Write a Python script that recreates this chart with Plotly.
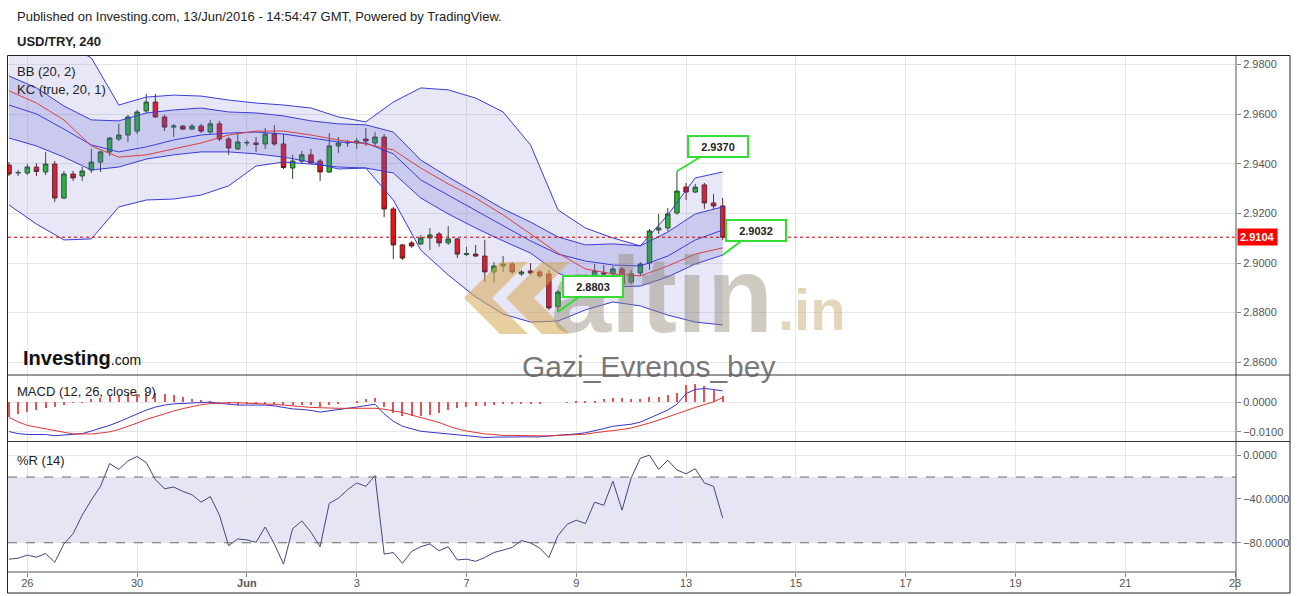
import plotly.graph_objects as go
from plotly.subplots import make_subplots

# ---------------- data (USD/TRY, 240-minute bars) ----------------
opens = [2.9395, 2.9363, 2.9363, 2.9387, 2.9367, 2.9399, 2.9262, 2.9359, 2.9351, 2.9375,
         2.9407, 2.9448, 2.9500, 2.9516, 2.9532, 2.9613, 2.9649, 2.9589, 2.9548, 2.9552,
         2.9540, 2.9552, 2.9528, 2.9561, 2.9500, 2.9460, 2.9484, 2.9484, 2.9480, 2.9520,
         2.9480, 2.9383, 2.9411, 2.9436, 2.9411, 2.9367, 2.9472, 2.9484, 2.9484, 2.9500,
         2.9484, 2.9508, 2.9218, 2.9073, 2.9081, 2.9077, 2.9101, 2.9117, 2.9081, 2.9097,
         2.9034, 2.9036, 2.9028, 2.8964, 2.8988, 2.8996, 2.8956, 2.8968, 2.8964, 2.8956,
         2.8823, 2.8887, 2.8919, 2.8915, 2.8907, 2.8960, 2.8956, 2.8976, 2.8923, 2.8960,
         2.9000, 2.9133, 2.9141, 2.9202, 2.9306, 2.9286, 2.9315, 2.9242, 2.9230]
highs = [2.9407, 2.9375, 2.9399, 2.9403, 2.9448, 2.9411, 2.9371, 2.9371, 2.9387, 2.9460,
         2.9452, 2.9508, 2.9561, 2.9597, 2.9617, 2.9682, 2.9682, 2.9597, 2.9561, 2.9556,
         2.9561, 2.9561, 2.9577, 2.9573, 2.9508, 2.9524, 2.9496, 2.9508, 2.9544, 2.9556,
         2.9520, 2.9436, 2.9452, 2.9460, 2.9419, 2.9524, 2.9508, 2.9496, 2.9504, 2.9544,
         2.9528, 2.9520, 2.9226, 2.9077, 2.9089, 2.9113, 2.9141, 2.9125, 2.9149, 2.9101,
         2.9065, 2.9073, 2.9093, 2.9004, 2.9028, 2.9004, 2.8972, 2.9000, 2.8972, 2.8972,
         2.8891, 2.8927, 2.8927, 2.8923, 2.8996, 2.8992, 2.8988, 2.8984, 2.8972, 2.9004,
         2.9137, 2.9198, 2.9222, 2.9370, 2.9323, 2.9319, 2.9323, 2.9278, 2.9262]
lows = [2.9351, 2.9350, 2.9355, 2.9351, 2.9355, 2.9246, 2.9258, 2.9331, 2.9331, 2.9363,
        2.9367, 2.9432, 2.9492, 2.9488, 2.9520, 2.9605, 2.9585, 2.9532, 2.9508, 2.9536,
        2.9536, 2.9524, 2.9520, 2.9492, 2.9436, 2.9456, 2.9472, 2.9448, 2.9460, 2.9472,
        2.9379, 2.9339, 2.9399, 2.9399, 2.9331, 2.9363, 2.9444, 2.9468, 2.9460, 2.9472,
        2.9468, 2.9185, 2.9016, 2.9012, 2.9061, 2.9073, 2.9052, 2.9065, 2.9073, 2.9020,
        2.9028, 2.9024, 2.8923, 2.8919, 2.8964, 2.8956, 2.8948, 2.8952, 2.8940, 2.8810,
        2.8803, 2.8867, 2.8907, 2.8895, 2.8871, 2.8944, 2.8940, 2.8899, 2.8915, 2.8948,
        2.8972, 2.9117, 2.9129, 2.9194, 2.9254, 2.9282, 2.9218, 2.9218, 2.9093]
closes = [2.9359, 2.9365, 2.9387, 2.9369, 2.9399, 2.9262, 2.9359, 2.9343, 2.9371, 2.9407,
          2.9448, 2.9504, 2.9516, 2.9589, 2.9609, 2.9649, 2.9589, 2.9548, 2.9552, 2.9540,
          2.9552, 2.9532, 2.9561, 2.9500, 2.9464, 2.9488, 2.9486, 2.9478, 2.9520, 2.9480,
          2.9385, 2.9411, 2.9436, 2.9403, 2.9367, 2.9472, 2.9484, 2.9486, 2.9492, 2.9492,
          2.9508, 2.9218, 2.9073, 2.9020, 2.9069, 2.9101, 2.9113, 2.9081, 2.9097, 2.9036,
          2.9038, 2.9028, 2.8964, 2.8988, 2.8996, 2.8964, 2.8964, 2.8960, 2.8948, 2.8819,
          2.8883, 2.8919, 2.8915, 2.8907, 2.8968, 2.8956, 2.8976, 2.8915, 2.8956, 2.8996,
          2.9129, 2.9141, 2.9198, 2.9290, 2.9286, 2.9306, 2.9242, 2.9230, 2.9104]

# band lines read every third bar
band_bars = [0, 3, 6, 9, 12, 15, 18, 21, 24, 27, 30, 33, 36, 39, 42, 45, 48, 51, 54, 57,
             60, 63, 66, 69, 72, 75, 78]
bb_upper = [2.9940, 2.9919, 2.9887, 2.9827, 2.9637, 2.9669, 2.9677, 2.9673, 2.9657, 2.9645,
            2.9637, 2.9625, 2.9589, 2.9569, 2.9649, 2.9706, 2.9698, 2.9665, 2.9609, 2.9476,
            2.9214, 2.9141, 2.9101, 2.9069, 2.9194, 2.9343, 2.9367]
bb_lower = [2.9234, 2.9157, 2.9093, 2.9097, 2.9226, 2.9254, 2.9258, 2.9274, 2.9311, 2.9391,
            2.9407, 2.9399, 2.9387, 2.9383, 2.9254, 2.9052, 2.8952, 2.8863, 2.8794, 2.8762,
            2.8766, 2.8811, 2.8843, 2.8827, 2.8790, 2.8762, 2.8750]
kc_upper = [2.9754, 2.9706, 2.9633, 2.9577, 2.9573, 2.9605, 2.9617, 2.9625, 2.9609, 2.9605,
            2.9593, 2.9573, 2.9561, 2.9557, 2.9528, 2.9415, 2.9347, 2.9282, 2.9218, 2.9165,
            2.9105, 2.9073, 2.9077, 2.9069, 2.9125, 2.9198, 2.9226]
kc_middle = [2.9637, 2.9601, 2.9540, 2.9476, 2.9448, 2.9468, 2.9496, 2.9516, 2.9524, 2.9528,
             2.9520, 2.9504, 2.9488, 2.9484, 2.9440, 2.9335, 2.9274, 2.9210, 2.9149, 2.9089,
             2.9036, 2.9008, 2.8992, 2.8988, 2.9028, 2.9093, 2.9133]
kc_lower = [2.9504, 2.9472, 2.9427, 2.9375, 2.9387, 2.9419, 2.9436, 2.9448, 2.9448, 2.9440,
            2.9427, 2.9407, 2.9379, 2.9383, 2.9363, 2.9262, 2.9198, 2.9141, 2.9089, 2.9040,
            2.8960, 2.8915, 2.8903, 2.8907, 2.8944, 2.8996, 2.9032]
bb_basis = [2.9694, 2.9645, 2.9577, 2.9472, 2.9427, 2.9436, 2.9460, 2.9484, 2.9516, 2.9532,
            2.9532, 2.9516, 2.9496, 2.9480, 2.9456, 2.9383, 2.9319, 2.9262, 2.9194, 2.9117,
            2.9040, 2.8976, 2.8956, 2.8948, 2.8988, 2.9036, 2.9061]

macd_line = [-0.0099, -0.0106, -0.0109, -0.0109, -0.0109, -0.0113, -0.0110, -0.0108, -0.0106, -0.0097,
             -0.0088, -0.0078, -0.0066, -0.0052, -0.0040, -0.0026, -0.0016, -0.0009, -0.0005, -0.0003,
             -0.0001, 0.0001, 0.0001, -0.0003, -0.0007, -0.0009, -0.0009, -0.0009, -0.0009, -0.0012,
             -0.0018, -0.0022, -0.0024, -0.0027, -0.0033, -0.0028, -0.0023, -0.0020, -0.0016, -0.0010,
             -0.0006, -0.0039, -0.0064, -0.0081, -0.0090, -0.0098, -0.0101, -0.0104, -0.0107, -0.0109,
             -0.0111, -0.0114, -0.0119, -0.0118, -0.0117, -0.0117, -0.0117, -0.0117, -0.0117, -0.0114,
             -0.0112, -0.0110, -0.0107, -0.0103, -0.0097, -0.0089, -0.0081, -0.0078, -0.0074, -0.0067,
             -0.0053, -0.0040, -0.0026, -0.0006, 0.0030, 0.0044, 0.0047, 0.0044, 0.0039]
signal_line = [-0.0051, -0.0066, -0.0078, -0.0084, -0.0090, -0.0096, -0.0101, -0.0107, -0.0107, -0.0107,
               -0.0104, -0.0100, -0.0092, -0.0082, -0.0070, -0.0058, -0.0048, -0.0038, -0.0029, -0.0021,
               -0.0014, -0.0008, -0.0004, -0.0002, -0.0001, -0.0001, -0.0002, -0.0003, -0.0004, -0.0007,
               -0.0009, -0.0012, -0.0014, -0.0017, -0.0018, -0.0020, -0.0020, -0.0020, -0.0020, -0.0020,
               -0.0020, -0.0023, -0.0029, -0.0034, -0.0043, -0.0051, -0.0059, -0.0068, -0.0080, -0.0090,
               -0.0097, -0.0103, -0.0107, -0.0109, -0.0112, -0.0112, -0.0113, -0.0114, -0.0114, -0.0114,
               -0.0112, -0.0111, -0.0110, -0.0108, -0.0103, -0.0100, -0.0096, -0.0092, -0.0087, -0.0079,
               -0.0070, -0.0060, -0.0050, -0.0039, -0.0028, -0.0017, -0.0007, 0.0002, 0.0016]

williams_r = [-95.0, -94.1, -91.3, -93.2, -89.8, -97.8, -81.1, -71.8, -54.8, -40.9,
              -28.5, -7.7, -13.0, -5.3, -1.2, -6.8, -22.3, -30.7, -29.1, -33.1,
              -36.2, -43.0, -37.8, -54.8, -82.7, -76.5, -77.4, -79.6, -65.6, -81.1,
              -99.5, -67.2, -60.1, -70.3, -83.6, -44.0, -39.3, -31.6, -25.4, -28.5,
              -18.6, -90.4, -88.9, -98.8, -87.9, -83.6, -81.1, -87.3, -83.6, -95.7,
              -95.0, -96.9, -93.5, -88.9, -86.7, -84.2, -78.0, -80.2, -84.8, -93.5,
              -73.4, -63.2, -59.4, -62.5, -43.0, -45.8, -23.8, -50.2, -20.7, -2.8,
              0.0, -13.0, -4.6, -13.6, -17.0, -12.4, -25.4, -28.5, -57.3]

day_labels = ['26', '30', '<b>Jun</b>', '3', '7', '9', '13', '15', '17', '19', '21', '23']
day_tick_bars = [2, 14, 26, 38, 50, 62, 74, 86, 98, 110, 122, 134]
price_ticks = [2.86, 2.88, 2.90, 2.92, 2.94, 2.96, 2.98]
macd_ticks = [0.0, -0.01]
wr_ticks = [0, -40, -80]
last_price = 2.9104
callouts = [(73, 2.9370), (78, 2.9032), (60, 2.8803)]

# ---------------- figure ----------------
FONT = "Arial, Liberation Sans, sans-serif"
BLUE = "#3c3cd8"
REDL = "#d94040"

bars = list(range(len(closes)))
hist = [m - s for m, s in zip(macd_line, signal_line)]

fig = make_subplots(rows=3, cols=1, shared_xaxes=True, vertical_spacing=0,
                    row_heights=[320, 66, 131])

fig.add_trace(go.Scatter(x=band_bars, y=bb_upper, mode='lines',
                         line=dict(color=BLUE, width=1)), row=1, col=1)
fig.add_trace(go.Scatter(x=band_bars, y=bb_lower, mode='lines', fill='tonexty',
                         fillcolor='rgba(110,110,205,0.17)',
                         line=dict(color=BLUE, width=1)), row=1, col=1)
fig.add_trace(go.Scatter(x=band_bars, y=kc_upper, mode='lines',
                         line=dict(color=BLUE, width=1)), row=1, col=1)
fig.add_trace(go.Scatter(x=band_bars, y=kc_lower, mode='lines', fill='tonexty',
                         fillcolor='rgba(90,90,210,0.20)',
                         line=dict(color=BLUE, width=1)), row=1, col=1)
fig.add_trace(go.Scatter(x=band_bars, y=kc_middle, mode='lines',
                         line=dict(color=BLUE, width=1)), row=1, col=1)
fig.add_trace(go.Scatter(x=band_bars, y=bb_basis, mode='lines',
                         line=dict(color=REDL, width=1)), row=1, col=1)
fig.add_trace(go.Candlestick(x=bars, open=opens, high=highs, low=lows, close=closes,
                             increasing=dict(fillcolor='#20c020', line=dict(color='#2a4a2a', width=1)),
                             decreasing=dict(fillcolor='#ee1111', line=dict(color='#5a2020', width=1)),
                             whiskerwidth=0), row=1, col=1)

fig.add_trace(go.Bar(x=bars, y=hist, width=0.12, marker=dict(color='#e05555', line=dict(width=0))),
              row=2, col=1)
fig.add_trace(go.Scatter(x=bars, y=macd_line, mode='lines', line=dict(color='#3434cc', width=1)),
              row=2, col=1)
fig.add_trace(go.Scatter(x=bars, y=signal_line, mode='lines', line=dict(color='#e03535', width=1)),
              row=2, col=1)

fig.add_trace(go.Scatter(x=bars, y=williams_r, mode='lines', line=dict(color='#45457f', width=1)),
              row=3, col=1)


def px(xp):
    return (xp - 8) / 1228


def py(yp):
    return (572 - yp) / 517


fig.update_layout(
    template='none', width=1297, height=596,
    margin=dict(l=8, r=61, t=55, b=24, pad=0),
    paper_bgcolor='white', plot_bgcolor='white', showlegend=False,
    font=dict(family=FONT, size=11, color='#555'),
    bargap=0,
)
fig.update_xaxes(range=[-0.11, 134.1], tickvals=day_tick_bars, ticktext=day_labels,
                 showgrid=True, gridcolor='#e6e6e6', gridwidth=1, zeroline=False,
                 showline=False, rangeslider_visible=False, automargin=False, ticks='')
fig.update_xaxes(row=3, col=1, ticks='outside', ticklen=4, tickcolor='#888', ticklabelstandoff=-3,
                 tickfont=dict(size=11, color='#555', family=FONT))
fig.update_yaxes(side='right', showgrid=True, gridcolor='#e6e6e6', zeroline=False,
                 ticks='outside', ticklen=4, tickcolor='#888', tickformat='.4f',
                 tickfont=dict(size=11, color='#555', family=FONT), automargin=False,
                 showline=False)
fig.update_yaxes(row=1, col=1, range=[2.85484, 2.98387], tickvals=price_ticks)
fig.update_yaxes(row=2, col=1, range=[-0.0131, 0.0093], tickvals=macd_ticks)
fig.update_yaxes(row=3, col=1, range=[-106.7, 12.9], tickvals=wr_ticks)

shapes = []
# %R band and levels
shapes.append(dict(type='rect', xref='paper', yref='y3', x0=0, x1=1, y0=-80, y1=-20,
                   fillcolor='rgba(170,170,220,0.30)', line=dict(width=0), layer='below'))
for lvl in (-20, -80):
    shapes.append(dict(type='line', xref='paper', yref='y3', x0=0, x1=1, y0=lvl, y1=lvl,
                       line=dict(color='#6a6a6a', width=1, dash='dash')))
# last price dotted line
shapes.append(dict(type='line', xref='paper', yref='y', x0=0, x1=1, y0=last_price, y1=last_price,
                   line=dict(color='#cc0000', width=1, dash='dot')))
# gold logo chevrons
gold = 'rgba(214,168,82,0.55)'
for dx in (0, 42):
    pts = [(500 + dx, 262), (528 + dx, 262), (492 + dx, 298), (528 + dx, 334), (500 + dx, 334), (464 + dx, 298)]
    path = 'M ' + ' L '.join(f'{px(a):.5f},{py(b):.5f}' for a, b in pts) + ' Z'
    shapes.append(dict(type='path', xref='paper', yref='paper', path=path,
                       fillcolor=gold, line=dict(width=0), layer='above'))
# frame, axis lines and separators
shapes.append(dict(type='rect', xref='paper', yref='paper', x0=px(7.5), x1=px(1290), y0=py(593), y1=py(55.5),
                   line=dict(color='#222', width=1)))
shapes.append(dict(type='line', xref='paper', yref='paper', x0=1, x1=1, y0=py(590), y1=py(55.5),
                   line=dict(color='#555', width=1)))
for sep in (375, 441.5):
    shapes.append(dict(type='line', xref='paper', yref='paper', x0=px(7.5), x1=px(1290), y0=py(sep), y1=py(sep),
                       line=dict(color='#333', width=1)))
shapes.append(dict(type='line', xref='paper', yref='paper', x0=0, x1=1, y0=0, y1=0,
                   line=dict(color='#555', width=1)))
fig.update_layout(shapes=shapes)

ann = []


def label(text, xp, yp, size=13, color='#222', anchor='left'):
    ann.append(dict(text=text, x=px(xp), y=py(yp), xref='paper', yref='paper', xanchor=anchor,
                    yanchor='middle', showarrow=False, font=dict(size=size, color=color, family=FONT)))


label('Published on Investing.com, 13/Jun/2016 - 14:54:47 GMT, Powered by TradingView.', 15, 17)
label('<b>USD/TRY, 240</b>', 15, 41)
label('BB (20, 2)', 15, 72)
label('KC (true, 20, 1)', 15, 90)
label('MACD (12, 26, close, 9)', 15, 391)
label('%R (14)', 15, 460)

# watermarks
ann.append(dict(text='<b>altin</b>', x=px(662), y=py(294), xref='paper', yref='paper', showarrow=False,
                xanchor='center', yanchor='middle',
                font=dict(size=108, color='rgba(140,130,110,0.42)', family=FONT)))
ann.append(dict(text='<b>.in</b>', x=px(812), y=py(309), xref='paper', yref='paper', showarrow=False,
                xanchor='center', yanchor='middle',
                font=dict(size=58, color='rgba(205,180,130,0.55)', family=FONT)))
ann.append(dict(text='Gazi_Evrenos_bey', x=px(648), y=py(366), xref='paper', yref='paper', showarrow=False,
                xanchor='center', yanchor='middle',
                font=dict(size=30, color='rgba(95,95,95,0.85)', family=FONT)))
ann.append(dict(text="<b>Investing</b><span style='font-size:14px'>.com</span>", x=px(21), y=py(358),
                xref='paper', yref='paper', showarrow=False, xanchor='left', yanchor='middle',
                font=dict(size=20, color='#111', family=FONT)))

# callouts
offsets = [(41, -25), (33, -25), (35, -25)]
for (bx, val), (ax, ay) in zip(callouts, offsets):
    ann.append(dict(text=f'<b>{val:.4f}</b>', x=bx, y=val, xref='x', yref='y', showarrow=True,
                    ax=ax, ay=ay, arrowhead=0, arrowwidth=2, arrowcolor='#33dd33',
                    bordercolor='#33dd33', borderwidth=2, borderpad=2, bgcolor='white',
                    width=54, height=15, font=dict(size=11, color='#222', family=FONT)))

# last price label on the axis
ann.append(dict(text=f'<b>{last_price:.4f}</b>', x=1, y=last_price, xref='paper', yref='y',
                xanchor='left', yanchor='middle', xshift=1, showarrow=False, bgcolor='#ff0000',
                borderpad=2, font=dict(size=11, color='white', family=FONT)))

fig.update_layout(annotations=ann)
fig.write_html("out.html", config={'displayModeBar': False},
               post_script="document.body.style.margin='0px';")
